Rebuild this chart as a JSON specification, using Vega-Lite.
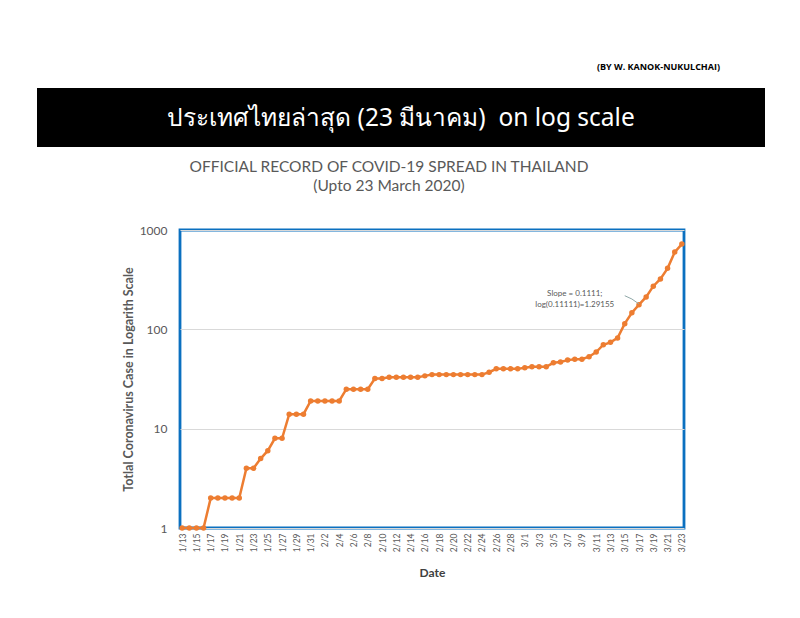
{
  "$schema": "https://vega.github.io/schema/vega-lite/v6.json",
  "background": "white",
  "padding": {"left": 37, "top": 63, "right": 0, "bottom": 0},
  "spacing": 11,
  "config": {
    "view": {"stroke": "#0B70C0", "strokeWidth": 2.8},
    "font": "Lato"
  },
  "vconcat": [
    {
      "width": 728,
      "height": 59,
      "view": {"fill": "black", "stroke": null},
      "title": {"text": "(BY W. KANOK-NUKULCHAI)", "anchor": "end", "fontSize": 9, "fontWeight": "bold", "font": "Open Sans", "color": "black", "dx": -45, "offset": 16},
      "data": {"values": [{"label": "ประเทศไทยล่าสุด (23 มีนาคม)\u00a0 on log scale"}]},
      "mark": {"type": "text", "color": "white", "fontSize": 24.5, "font": "Noto Sans", "dy": 1},
      "encoding": {"text": {"field": "label", "type": "nominal"}}
    },
    {
      "spacing": 82,
      "hconcat": [
        {
          "width": 1,
          "height": 10,
          "view": {"stroke": null},
          "data": {"values": [{"t": ""}]},
          "mark": {"type": "text"},
          "encoding": {"text": {"field": "t", "type": "nominal"}}
        },
        {
          "width": 504,
          "height": 298,
          "title": {
            "text": "OFFICIAL RECORD OF COVID-19 SPREAD IN THAILAND",
            "subtitle": "(Upto 23 March 2020)",
            "anchor": "middle",
            "frame": "group",
            "dx": -43,
            "offset": 30,
            "font": "Lato",
            "fontSize": 15.5,
            "fontWeight": "normal",
            "color": "#595959",
            "subtitleFont": "Lato",
            "subtitleFontSize": 15.5,
            "subtitleColor": "#595959",
            "subtitlePadding": 3
          },
          "data": {
            "values": [
              {"date": "1/13", "cases": 1, "series": "main"},
              {"date": "1/14", "cases": 1, "series": "main"},
              {"date": "1/15", "cases": 1, "series": "main"},
              {"date": "1/16", "cases": 1, "series": "main"},
              {"date": "1/17", "cases": 2, "series": "main"},
              {"date": "1/18", "cases": 2, "series": "main"},
              {"date": "1/19", "cases": 2, "series": "main"},
              {"date": "1/20", "cases": 2, "series": "main"},
              {"date": "1/21", "cases": 2, "series": "main"},
              {"date": "1/22", "cases": 4, "series": "main"},
              {"date": "1/23", "cases": 4, "series": "main"},
              {"date": "1/24", "cases": 5, "series": "main"},
              {"date": "1/25", "cases": 6, "series": "main"},
              {"date": "1/26", "cases": 8, "series": "main"},
              {"date": "1/27", "cases": 8, "series": "main"},
              {"date": "1/28", "cases": 14, "series": "main"},
              {"date": "1/29", "cases": 14, "series": "main"},
              {"date": "1/30", "cases": 14, "series": "main"},
              {"date": "1/31", "cases": 19, "series": "main"},
              {"date": "2/1", "cases": 19, "series": "main"},
              {"date": "2/2", "cases": 19, "series": "main"},
              {"date": "2/3", "cases": 19, "series": "main"},
              {"date": "2/4", "cases": 19, "series": "main"},
              {"date": "2/5", "cases": 25, "series": "main"},
              {"date": "2/6", "cases": 25, "series": "main"},
              {"date": "2/7", "cases": 25, "series": "main"},
              {"date": "2/8", "cases": 25, "series": "main"},
              {"date": "2/9", "cases": 32, "series": "main"},
              {"date": "2/10", "cases": 32, "series": "main"},
              {"date": "2/11", "cases": 33, "series": "main"},
              {"date": "2/12", "cases": 33, "series": "main"},
              {"date": "2/13", "cases": 33, "series": "main"},
              {"date": "2/14", "cases": 33, "series": "main"},
              {"date": "2/15", "cases": 33, "series": "main"},
              {"date": "2/16", "cases": 34, "series": "main"},
              {"date": "2/17", "cases": 35, "series": "main"},
              {"date": "2/18", "cases": 35, "series": "main"},
              {"date": "2/19", "cases": 35, "series": "main"},
              {"date": "2/20", "cases": 35, "series": "main"},
              {"date": "2/21", "cases": 35, "series": "main"},
              {"date": "2/22", "cases": 35, "series": "main"},
              {"date": "2/23", "cases": 35, "series": "main"},
              {"date": "2/24", "cases": 35, "series": "main"},
              {"date": "2/25", "cases": 37, "series": "main"},
              {"date": "2/26", "cases": 40, "series": "main"},
              {"date": "2/27", "cases": 40, "series": "main"},
              {"date": "2/28", "cases": 40, "series": "main"},
              {"date": "2/29", "cases": 40, "series": "main"},
              {"date": "3/1", "cases": 41, "series": "main"},
              {"date": "3/2", "cases": 42, "series": "main"},
              {"date": "3/3", "cases": 42, "series": "main"},
              {"date": "3/4", "cases": 42, "series": "main"},
              {"date": "3/5", "cases": 46, "series": "main"},
              {"date": "3/6", "cases": 47, "series": "main"},
              {"date": "3/7", "cases": 49, "series": "main"},
              {"date": "3/8", "cases": 50, "series": "main"},
              {"date": "3/9", "cases": 50, "series": "main"},
              {"date": "3/10", "cases": 53, "series": "main"},
              {"date": "3/11", "cases": 59, "series": "main"},
              {"date": "3/12", "cases": 70, "series": "main"},
              {"date": "3/13", "cases": 74, "series": "main"},
              {"date": "3/14", "cases": 82, "series": "main"},
              {"date": "3/15", "cases": 114, "series": "main"},
              {"date": "3/16", "cases": 147, "series": "main"},
              {"date": "3/17", "cases": 177, "series": "main"},
              {"date": "3/18", "cases": 212, "series": "main"},
              {"date": "3/19", "cases": 272, "series": "main"},
              {"date": "3/20", "cases": 322, "series": "main"},
              {"date": "3/21", "cases": 411, "series": "main"},
              {"date": "3/22", "cases": 599, "series": "main"},
              {"date": "3/23", "cases": 721, "series": "main"},
              {"date": "3/8", "cases": 227, "series": "note", "label": "Slope =  0.1111;\nlog(0.11111)=1.29155"},
              {"date": "3/15", "cases": 218, "series": "leader"},
              {"date": "3/16", "cases": 202, "series": "leader"},
              {"date": "3/17", "cases": 180, "series": "leader"}
            ]
          },
          "encoding": {
            "x": {
              "field": "date",
              "type": "ordinal",
              "sort": null,
              "scale": {
                "type": "point",
                "padding": 0.3,
                "domain": ["1/13","1/14","1/15","1/16","1/17","1/18","1/19","1/20","1/21","1/22","1/23","1/24","1/25","1/26","1/27","1/28","1/29","1/30","1/31","2/1","2/2","2/3","2/4","2/5","2/6","2/7","2/8","2/9","2/10","2/11","2/12","2/13","2/14","2/15","2/16","2/17","2/18","2/19","2/20","2/21","2/22","2/23","2/24","2/25","2/26","2/27","2/28","2/29","3/1","3/2","3/3","3/4","3/5","3/6","3/7","3/8","3/9","3/10","3/11","3/12","3/13","3/14","3/15","3/16","3/17","3/18","3/19","3/20","3/21","3/22","3/23"]
              },
              "axis": {
                "title": "Date",
                "titleFont": "Lato",
                "titleFontSize": 12,
                "titleFontWeight": "bold",
                "titleColor": "#404040",
                "titlePadding": 16,
                "values": ["1/13","1/15","1/17","1/19","1/21","1/23","1/25","1/27","1/29","1/31","2/2","2/4","2/6","2/8","2/10","2/12","2/14","2/16","2/18","2/20","2/22","2/24","2/26","2/28","3/1","3/3","3/5","3/7","3/9","3/11","3/13","3/15","3/17","3/19","3/21","3/23"],
                "labelAngle": 270,
                "labelFont": "Lato",
                "labelFontSize": 8.5,
                "labelColor": "#595959",
                "labelPadding": 5,
                "ticks": false,
                "domain": false,
                "grid": false
              }
            },
            "y": {
              "field": "cases",
              "type": "quantitative",
              "scale": {"type": "log", "domain": [1, 1000], "nice": false},
              "axis": {
                "title": "Totlal Coronavirus Case in Logarith Scale",
                "titleFont": "Lato",
                "titleFontSize": 12.5,
                "titleFontWeight": "bold",
                "titleColor": "#595959",
                "titlePadding": 4,
                "values": [1, 10, 100, 1000],
                "format": "d",
                "labelFont": "Lato",
                "labelFontSize": 12,
                "labelColor": "#595959",
                "labelPadding": 13,
                "ticks": false,
                "domain": false,
                "grid": true,
                "gridColor": "#d9d9d9",
                "gridWidth": 1.2
              }
            }
          },
          "layer": [
            {
              "transform": [{"filter": "datum.series === 'main'"}],
              "mark": {"type": "line", "color": "#ED7D31", "strokeWidth": 2.5, "point": {"filled": true, "size": 30, "color": "#ED7D31"}}
            },
            {
              "transform": [{"filter": "datum.series === 'leader'"}],
              "mark": {"type": "line", "color": "#8fa8a8", "strokeWidth": 1}
            },
            {
              "transform": [{"filter": "datum.series === 'note'"}],
              "mark": {"type": "text", "font": "Lato", "fontSize": 8, "color": "#595959", "lineBreak": "\n", "lineHeight": 11, "align": "center", "baseline": "middle"},
              "encoding": {"text": {"field": "label", "type": "nominal"}}
            }
          ]
        }
      ]
    }
  ]
}
